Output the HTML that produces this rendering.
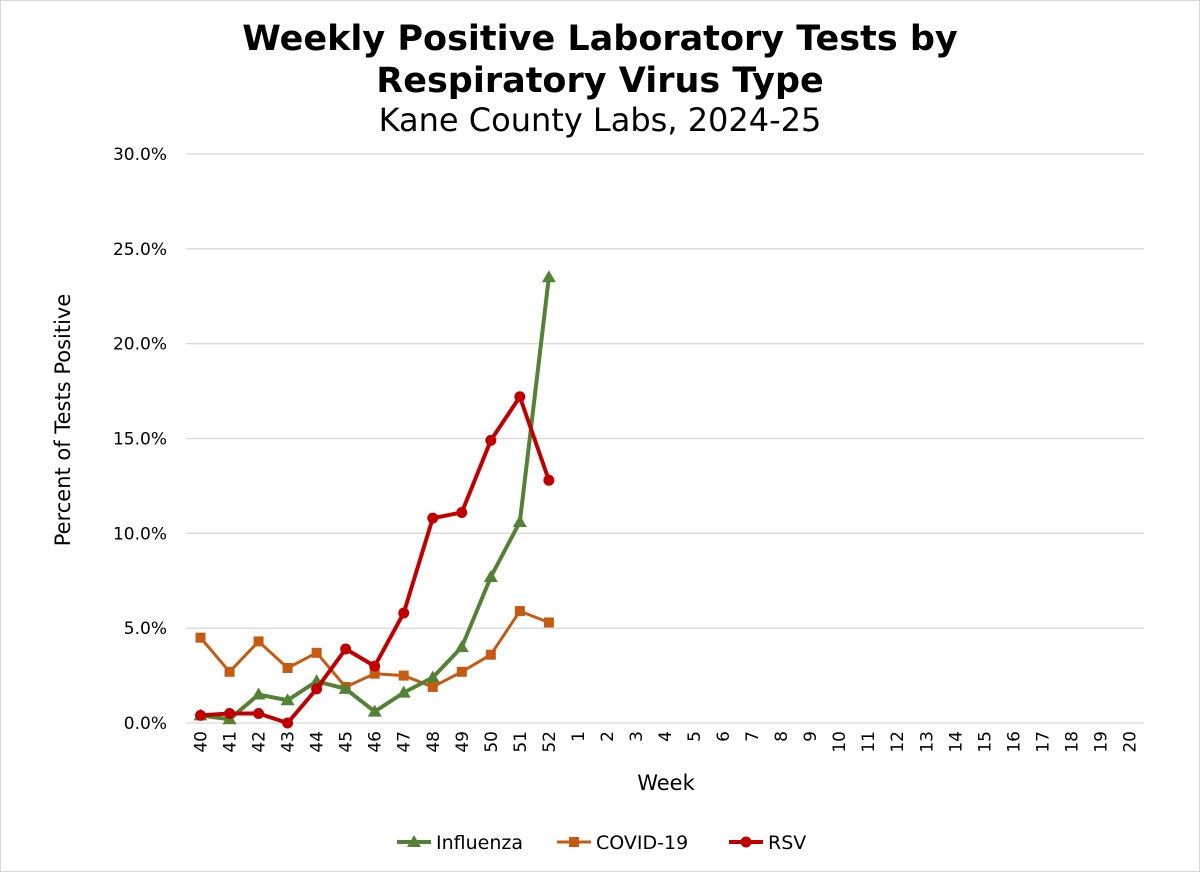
<!DOCTYPE html>
<html><head><meta charset="utf-8"><style>
html,body{margin:0;padding:0;background:#fff;}
svg{display:block;font-family:"DejaVu Sans","Liberation Sans",sans-serif;}
</style></head><body>
<svg id="chart" width="1200" height="872" viewBox="0 0 1200 872">
<rect x="0.5" y="0.5" width="1199" height="871" fill="#fff" stroke="#d9d9d9"/>
<text x="600" y="50" text-anchor="middle" font-size="35" font-weight="bold" fill="#000">Weekly Positive Laboratory Tests by</text>
<text x="600" y="92" text-anchor="middle" font-size="35" font-weight="bold" fill="#000">Respiratory Virus Type</text>
<text x="600" y="131" text-anchor="middle" font-size="32" fill="#000">Kane County Labs, 2024-25</text>
<g id="grid"></g><g id="axes"></g><g id="series"></g>
<text transform="translate(70,420) rotate(-90)" text-anchor="middle" font-size="21" fill="#000">Percent of Tests Positive</text>
<text x="666" y="790" text-anchor="middle" font-size="21" fill="#000">Week</text>
<g>
<g>
<line x1="397" y1="842" x2="431" y2="842" stroke="#548235" stroke-width="4"/>
<polygon points="414,835 421,847 407,847" fill="#548235"/>
<text x="436" y="849" font-size="19">Influenza</text></g>
<g>
<line x1="557" y1="842" x2="591" y2="842" stroke="#c55a11" stroke-width="3"/>
<rect x="569" y="837" width="10" height="10" fill="#c55a11"/>
<text x="596" y="849" font-size="19">COVID-19</text></g>
<g>
<line x1="729" y1="842" x2="763" y2="842" stroke="#c00000" stroke-width="4"/>
<circle cx="746" cy="842" r="5.5" fill="#c00000"/>
<text x="768" y="849" font-size="19">RSV</text></g>
</g>
</svg>
<script>
const weeks=["40","41","42","43","44","45","46","47","48","49","50","51","52","1","2","3","4","5","6","7","8","9","10","11","12","13","14","15","16","17","18","19","20"];
const influenza=[0.4,0.2,1.5,1.2,2.2,1.8,0.6,1.6,2.4,4.0,7.7,10.6,23.5];
const covid=[4.5,2.7,4.3,2.9,3.7,1.9,2.6,2.5,1.9,2.7,3.6,5.9,5.3];
const rsv=[0.4,0.5,0.5,0.0,1.8,3.9,3.0,5.8,10.8,11.1,14.9,17.2,12.8];
const yTicks=[0,5,10,15,20,25,30];
const yTickLabels=["0.0%","5.0%","10.0%","15.0%","20.0%","25.0%","30.0%"];
const NS="http://www.w3.org/2000/svg";
const L=186,R=1144,T=154,B=723,yMax=30;
const step=(R-L)/weeks.length;
function xs(i){return L+step*(i+0.5);}
function ys(v){return B-(v/yMax)*(B-T);}
function mk(tag,attrs,parent){const e=document.createElementNS(NS,tag);for(const k in attrs)e.setAttribute(k,attrs[k]);parent.appendChild(e);return e;}
const grid=document.getElementById('grid'),axes=document.getElementById('axes'),ser=document.getElementById('series');
yTicks.forEach((t,i)=>{
 const ln=mk('line',{x1:L,x2:R,y1:ys(t),y2:ys(t),stroke:'#d9d9d9','stroke-width':1.3},grid);
 
 
 const tx=mk('text',{x:167,y:ys(t)+6,'text-anchor':'end','font-size':17,fill:'#000'},axes);
 tx.textContent=yTickLabels[i];
 
 
});
weeks.forEach((w,i)=>{
 const tx=mk('text',{transform:`translate(${xs(i)+6},${B+8}) rotate(-90)`,'text-anchor':'end','font-size':17,fill:'#000'},axes);
 tx.textContent=w;
 
 
});
function drawSeries(vals,color,width,marker,name){
 const g=mk('g',{},ser);
 
 
 const pl=mk('polyline',{points:vals.map((v,i)=>xs(i)+','+ys(v)).join(' '),fill:'none',stroke:color,'stroke-width':width,'stroke-linejoin':'round'},g);
 
 
 vals.forEach((v,i)=>{
  const x=xs(i),y=ys(v);let m;
  if(marker==='tri')m=mk('polygon',{points:`${x},${y-7} ${x+7},${y+5} ${x-7},${y+5}`,fill:color},g);
  else if(marker==='sq')m=mk('rect',{x:x-5,y:y-5,width:10,height:10,fill:color},g);
  else m=mk('circle',{cx:x,cy:y,r:5.5,fill:color},g);
  
  
 });
}
drawSeries(covid,'#c55a11',3,'sq','covid-19');
drawSeries(influenza,'#548235',4,'tri','influenza');
drawSeries(rsv,'#c00000',4,'circ','rsv');
</script>
</body></html>
